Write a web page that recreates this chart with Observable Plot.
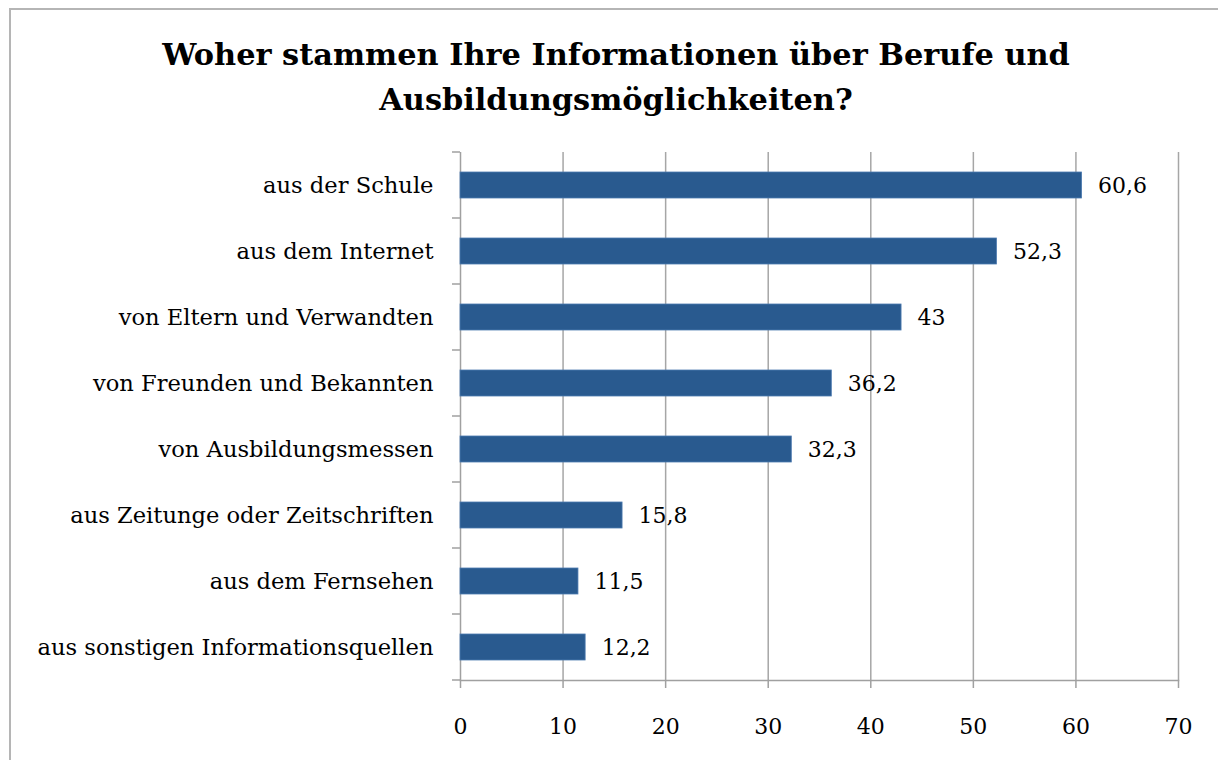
<!DOCTYPE html>
<html><head><meta charset="utf-8">
<script src="https://cdn.jsdelivr.net/npm/d3@7"></script>
<script src="https://cdn.jsdelivr.net/npm/@observablehq/plot@0.6"></script>
<style>
body{margin:0;background:#fff;}
#wrap{position:relative;width:1218px;height:760px;overflow:hidden;background:#fff;}
#frame{position:absolute;left:9px;top:8px;width:1300px;height:900px;border-left:2px solid #b5b5b5;border-top:2px solid #b5b5b5;}
#title{position:absolute;left:0;top:32px;width:1232px;text-align:center;font-family:"DejaVu Serif";font-weight:bold;font-size:30.4px;line-height:45px;color:#000;}
#chart{position:absolute;left:0;top:140px;}
</style></head>
<body><div id="wrap"><div id="frame"></div><div id="title">Woher stammen Ihre Informationen über Berufe und<br>Ausbildungsmöglichkeiten?</div><div id="chart"></div></div>
<script>
const categories = [
  "aus der Schule",
  "aus dem Internet",
  "von Eltern und Verwandten",
  "von Freunden und Bekannten",
  "von Ausbildungsmessen",
  "aus Zeitunge oder Zeitschriften",
  "aus dem Fernsehen",
  "aus sonstigen Informationsquellen"
];
const values = [60.6, 52.3, 43, 36.2, 32.3, 15.8, 11.5, 12.2];
const xTicks = [0, 10, 20, 30, 40, 50, 60, 70];

const data = categories.map((c, i) => ({category: c, value: values[i]}));
const fmt = v => String(v).replace(".", ",");
const padIn = 0.6, padOut = 0.3;

function bandTicks(index, scales, vals, dimensions) {
  const {marginTop, marginLeft, height, marginBottom} = dimensions;
  const yb = d3.scaleBand().domain(categories).range([marginTop, height - marginBottom])
    .paddingInner(padIn).paddingOuter(padOut);
  const step = yb.step();
  const bounds = categories.map(c => yb(c) - step * padIn / 2);
  bounds.push(yb(categories[categories.length - 1]) + yb.bandwidth() + step * padIn / 2);
  const g = d3.create("svg:g");
  g.selectAll("line").data(bounds).join("line")
    .attr("x1", marginLeft - 8).attr("x2", marginLeft)
    .attr("y1", d => d).attr("y2", d => d)
    .attr("stroke", "#a0a0a0").attr("stroke-width", 1.5);
  return g.node();
}

const chart = Plot.plot({
  width: 1218,
  height: 620,
  marginTop: 12,
  marginLeft: 460,
  marginRight: 40,
  marginBottom: 80,
  style: {fontFamily: "DejaVu Serif", fontSize: "22px", color: "#000", background: "transparent"},
  x: {domain: [0, 70], label: null},
  y: {domain: categories, paddingInner: padIn, paddingOuter: padOut, label: null},
  marks: [
    Plot.gridX(xTicks.slice(1), {stroke: "#a6a6a6", strokeOpacity: 1, strokeWidth: 1.5}),
    Plot.axisX({ticks: xTicks, tickSize: 8, tickPadding: 30, stroke: "#a0a0a0", strokeWidth: 1.5, fontSize: 22, label: null, tickFormat: d => String(d)}),
    Plot.axisY({tickSize: 0, tickPadding: 27, fontSize: 22.6, label: null}),
    Plot.frame({anchor: "bottom", stroke: "#a0a0a0", strokeWidth: 1.5}),
    Plot.ruleX([0], {stroke: "#a0a0a0", strokeWidth: 1.5}),
    bandTicks,
    Plot.barX(data, {x: "value", y: "category", fill: "#295a8f", stroke: "#4d7bb0", strokeWidth: 0.8}),
    Plot.text(data, {x: "value", y: "category", text: d => fmt(d.value), textAnchor: "start", dx: 16, fontSize: 22})
  ]
});
document.getElementById("chart").appendChild(chart);
</script>
</body></html>
